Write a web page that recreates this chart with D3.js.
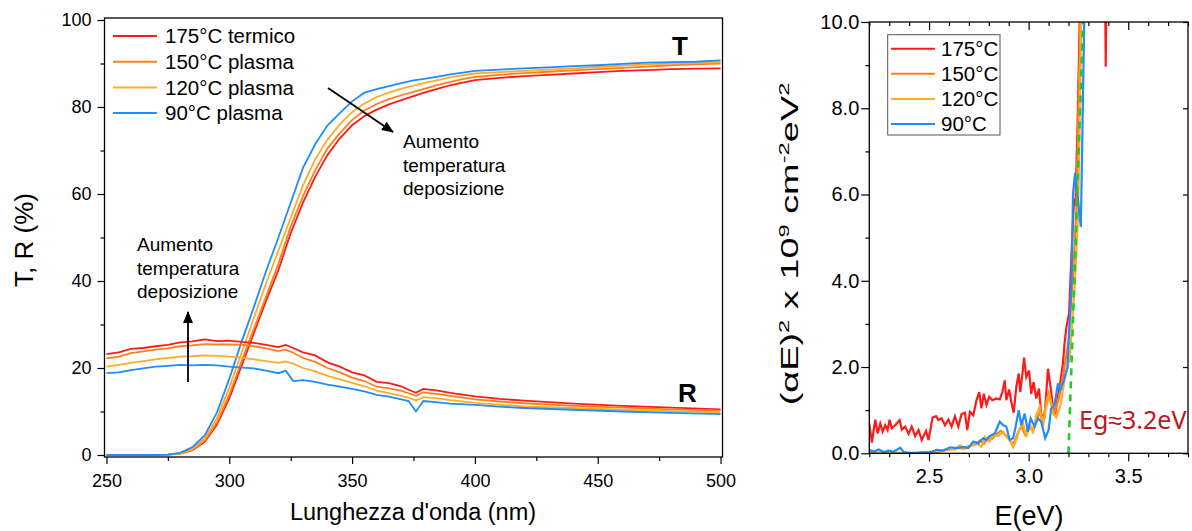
<!DOCTYPE html>
<html>
<head>
<meta charset="utf-8">
<script src="https://d3js.org/d3.v7.min.js"></script>
<style>
  body { margin: 0; background: #fff; }
  svg { display: block; font-family: "Liberation Sans", Arial, sans-serif; }
  .axis path { display: none; }
  .axis line { stroke: #000; stroke-width: 1.2; }
  .axis text { fill: #000; }
</style>
</head>
<body>
<script>
// ---- left panel: transmittance / reflectance vs wavelength ----
var seriesNames = ["175°C termico", "150°C plasma", "120°C plasma", "90°C plasma"];
var seriesShort = ["175°C", "150°C", "120°C", "90°C"];
var colors = ["#ff1a1a", "#ff7f1e", "#ffad22", "#1f8cff"];

var wlT = [250,260,270,275,280,285,290,295,300,305,310,315,320,325,330,335,340,345,350,355,
           360,365,370,375,380,385,390,395,400,410,420,430,440,450,460,470,480,490,500];
var T175 = [0,0,0,0.1,0.3,1.1,3.0,7.0,13,20.5, 28,35.5,42.5,51,58,64,69,72.8,75.8,77.9,
            79.4,80.6,81.6,82.5,83.4,84.2,85,85.6,86.2,86.7, 87.1,87.4,87.7,88.0,88.3,88.5,88.7,88.8,88.9];
var T150 = [0,0,0,0.1,0.3,1.2,3.3,7.5,13.8,21.5, 29,36.5,44,52.5,59.5,65.5,70.5,74,77,79.2,
            80.7,81.8,82.7,83.5,84.3,85.1,85.8,86.4,86.9,87.4, 87.8,88.1,88.4,88.7,89.0,89.3,89.6,89.8,90.0];
var T120 = [0,0,0,0.1,0.4,1.4,3.8,8.5,15.5,23.5, 31.5,39.5,47,54.5,62,68,72.5,76,78.8,80.8,
            82.3,83.3,84.2,84.9,85.6,86.2,86.8,87.3,87.7,88.0, 88.3,88.6,88.9,89.2,89.5,89.8,90.0,90.1,90.3];
var T90  = [0,0,0,0.1,0.5,1.8,4.5,9.8,17.5,26, 34,42.3,50,58,66,71.5,75.8,78.6,81.3,83.3,
            84.1,84.8,85.5,86.1,86.5,87.0,87.5,87.9,88.3,88.6, 88.9,89.1,89.4,89.6,89.9,90.2,90.3,90.4,90.7];

var wlR = [250,255,260,265,270,275,280,285,290,295,300,305,310,315,320,323,326,330,335,340,
           345,350,355,360,365,370,373,376,379,385,390,400,410,420,440,460,480,500];
var R175 = [23.2,23.6,24.4,24.6,25.0,25.3,25.9,26.1,26.6,26.2, 26.3,26.0,25.8,25.3,24.8,25.3,24.6,23.6,22.9,21.3,
            20.3,19.0,18.3,16.8,16.5,15.8,15.0,14.3,15.2,14.8, 14.3,13.5,12.9,12.5,11.8,11.3,10.9,10.5];
var R150 = [22.2,22.6,23.4,23.8,24.2,24.5,25.0,25.2,25.5,25.4, 25.4,25.3,25.0,24.5,23.9,24.2,23.5,22.3,21.4,20.0,
            19.0,17.8,17.0,15.7,15.3,14.8,14.2,13.6,14.4,14.0, 13.6,12.8,12.3,11.9,11.3,10.9,10.5,10.2];
var R120 = [20.3,20.7,21.2,21.6,22.0,22.3,22.6,22.7,22.9,22.8, 22.6,22.4,22.0,21.6,21.2,21.5,21.0,20.0,19.2,18.2,
            17.4,16.6,15.8,14.8,14.2,13.6,13.2,12.5,13.3,13.0, 12.6,12.0,11.6,11.2,10.8,10.4,10.1,9.8];
var R90  = [18.8,19.0,19.5,19.9,20.3,20.5,20.7,20.6,20.7,20.6, 20.3,20.1,19.9,19.4,18.8,19.4,17.0,17.2,16.8,16.2,
            15.7,15.2,14.6,13.8,13.4,12.8,12.4,10.0,12.4,12.1, 11.8,11.5,11.1,10.8,10.4,10.0,9.7,9.4];

var xTicksL = [250,300,350,400,450,500];
var xMinorL = [275,325,375,425,475];
var yTicksL = [0,20,40,60,80,100];
var yMinorL = [10,30,50,70,90];

// ---- right panel: (alpha E)^2 vs E ----
var E175 = [2.200,2.213,2.230,2.242,2.255,2.267,2.280,2.292,2.302,2.313,2.330,2.352,2.363,2.380,2.397,2.413,2.430,2.447,2.463,2.485,
            2.497,2.518,2.535,2.547,2.563,2.580,2.597,2.613,2.630,2.647,2.663,2.680,2.692,2.705,2.722,2.738,2.752,2.763,2.775,2.788,
            2.802,2.818,2.838,2.855,2.868,2.880,2.888,2.902,2.913,2.925,2.938,2.950,2.958,2.968,2.977,2.988,3.002,3.013,3.025,3.038,
            3.052,3.063,3.080,3.097,3.110,3.122,3.135,3.147,3.158,3.172,3.180,3.190,3.203,3.215,3.228,3.235,3.245,3.257,3.280,3.320,
            3.360,3.380,3.387,3.394,3.420,3.800];
var A175 = [0.69,0.25,0.78,0.46,0.69,0.50,0.65,0.54,0.78,0.58,0.65,0.77,0.55,0.62,0.45,0.62,0.40,0.54,0.31,0.52,
            0.31,0.83,0.86,0.77,0.81,0.65,0.78,0.62,0.86,0.62,0.91,0.94,0.54,0.96,0.88,1.23,1.42,1.04,1.38,1.12,
            1.31,1.23,1.27,1.25,1.42,1.69,1.23,1.48,1.19,0.94,1.54,1.85,1.42,1.81,2.22,1.77,1.92,1.38,1.65,1.27,
            1.50,0.90,0.85,1.96,1.54,1.08,0.96,1.31,1.62,2.08,2.54,2.94,3.25,4.6,5.9,5.75,7.5,10.2,14,18,
            16,13,8.96,13,18,20];
var E150 = [2.20,2.25,2.30,2.35,2.40,2.45,2.50,2.55,2.58,2.61,2.64,2.67,2.70,2.73,2.755,2.775,2.795,2.815,2.84,2.86,
            2.88,2.90,2.915,2.93,2.95,2.965,2.98,3.00,3.02,3.04,3.055,3.07,3.09,3.10,3.115,3.13,3.15,3.175,3.20,3.225,
            3.24,3.26,3.29];
var A150 = [0.03,0.01,0.02,0.01,0.00,0.01,0.02,0.04,0.07,0.09,0.13,0.11,0.17,0.20,0.30,0.22,0.36,0.33,0.45,0.52,
            0.44,0.36,0.22,0.28,0.52,0.62,0.45,0.60,0.55,0.78,0.95,0.70,1.25,1.40,1.10,0.95,1.25,1.85,2.6,4.3,
            5.7,10.2,13];
var E120 = [2.200,2.238,2.288,2.338,2.388,2.438,2.488,2.538,2.572,2.605,2.630,2.655,2.680,2.705,2.738,2.763,2.780,2.802,2.822,2.847,
            2.872,2.888,2.905,2.922,2.938,2.955,2.972,2.988,3.005,3.022,3.038,3.055,3.072,3.088,3.105,3.122,3.138,3.158,3.180,3.207,
            3.232,3.248,3.265,3.290];
var A120 = [0.02,0.01,0.02,0.00,0.01,0.00,0.03,0.05,0.08,0.12,0.08,0.19,0.10,0.15,0.23,0.15,0.38,0.27,0.42,0.40,
            0.50,0.38,0.31,0.14,0.31,0.58,0.69,0.38,0.69,0.46,0.88,1.08,0.62,1.08,1.38,0.92,0.83,1.08,1.69,2.24,
            3.94,5.49,10.2,13];
var E90 = [2.200,2.222,2.247,2.272,2.297,2.322,2.355,2.372,2.405,2.438,2.472,2.505,2.538,2.572,2.605,2.638,2.672,2.697,2.722,2.747,
           2.772,2.788,2.805,2.830,2.855,2.872,2.888,2.905,2.922,2.935,2.950,2.963,2.980,2.997,3.010,3.030,3.047,3.063,3.083,3.100,
           3.113,3.130,3.147,3.158,3.172,3.195,3.215,3.223,3.233,3.240,3.262,3.280,3.300];
var A90 = [0.08,0.04,0.09,0.03,0.06,0.04,0.13,0.03,0.01,0.01,0.02,0.02,0.08,0.06,0.14,0.12,0.15,0.12,0.27,0.23,
           0.35,0.31,0.40,0.46,0.73,0.65,0.62,0.31,0.35,0.62,1.00,0.65,0.92,0.50,0.81,0.62,0.81,0.73,0.35,0.54,
           1.04,1.12,1.62,1.46,1.62,2.0,3.94,6.03,6.5,6.2,5.25,10.3,13];

var xTicksR = [2.5,3.0,3.5];
var xMinorR = [2.2,2.3,2.4,2.6,2.7,2.8,2.9,3.1,3.2,3.3,3.4,3.6,3.7,3.8];
var yTicksR = [0,2,4,6,8,10];
var yMinorR = [1,3,5,7,9];
var egLine = [[3.2, 0], [3.273, 10]];

var svg = d3.select("body").append("svg")
  .attr("width", 1192).attr("height", 531);

function pairs(xs, ys) { return xs.map(function(x, i) { return [x, ys[i]]; }); }

// ================= LEFT =================
var xL = d3.scaleLinear().domain([249.2, 500.8]).range([104.5, 722.5]);
var yL = d3.scaleLinear().domain([-0.46, 100.46]).range([457, 18]);

svg.append("g").attr("class", "axis")
  .attr("transform", "translate(0,457)")
  .style("font-size", "18px")
  .call(d3.axisBottom(xL).tickValues(xTicksL).tickSize(7).tickPadding(10).tickFormat(d3.format("d")));
svg.append("g").attr("class", "axis")
  .attr("transform", "translate(0,457)")
  .call(d3.axisBottom(xL).tickValues(xMinorL).tickSize(4).tickFormat(""));
svg.append("g").attr("class", "axis")
  .attr("transform", "translate(104.5,0)")
  .style("font-size", "18px")
  .call(d3.axisLeft(yL).tickValues(yTicksL).tickSize(7).tickPadding(6).tickFormat(d3.format("d")));
svg.append("g").attr("class", "axis")
  .attr("transform", "translate(104.5,0)")
  .call(d3.axisLeft(yL).tickValues(yMinorL).tickSize(4).tickFormat(""));

var lineL = d3.line().x(function(d) { return xL(d[0]); }).y(function(d) { return yL(d[1]); });
var Tsets = [T175, T150, T120, T90];
var Rsets = [R175, R150, R120, R90];
Tsets.forEach(function(s, i) {
  svg.append("path").datum(pairs(wlT, s)).attr("d", lineL)
    .attr("fill", "none").attr("stroke", colors[i]).attr("stroke-width", 1.8);
});
Rsets.forEach(function(s, i) {
  svg.append("path").datum(pairs(wlR, s)).attr("d", lineL)
    .attr("fill", "none").attr("stroke", colors[i]).attr("stroke-width", 1.8);
});

svg.append("rect").attr("x", 104.5).attr("y", 18).attr("width", 618).attr("height", 439)
  .attr("fill", "none").attr("stroke", "#000").attr("stroke-width", 1.3);

// legend
var legL = svg.selectAll(".legL").data(seriesNames).enter().append("g")
  .attr("transform", function(d, i) { return "translate(0," + (36 + i * 25.7) + ")"; });
legL.append("line").attr("x1", 113).attr("x2", 157)
  .attr("stroke", function(d, i) { return colors[i]; }).attr("stroke-width", 2);
legL.append("text").attr("x", 165).attr("dy", "0.35em").style("font-size", "20.5px").text(function(d) { return d; });

svg.append("text").attr("x", 672).attr("y", 55).style("font-size", "26px").style("font-weight", "bold").text("T");
svg.append("text").attr("x", 678).attr("y", 402).style("font-size", "26px").style("font-weight", "bold").text("R");

// arrows
var defs = svg.append("defs");
defs.append("marker").attr("id", "ah").attr("viewBox", "0 0 12 10")
  .attr("refX", 11).attr("refY", 5).attr("markerWidth", 12).attr("markerHeight", 10)
  .attr("markerUnits", "userSpaceOnUse").attr("orient", "auto")
  .append("path").attr("d", "M0,0L12,5L0,10Z").attr("fill", "#000");
svg.append("line").attr("x1", 328).attr("y1", 88).attr("x2", 393).attr("y2", 132)
  .attr("stroke", "#000").attr("stroke-width", 1.8).attr("marker-end", "url(#ah)");
svg.append("line").attr("x1", 188).attr("y1", 382).attr("x2", 188).attr("y2", 312)
  .attr("stroke", "#000").attr("stroke-width", 1.8).attr("marker-end", "url(#ah)");

var noteLines = ["Aumento", "temperatura", "deposizione"];
var n1 = svg.append("text").style("font-size", "19px");
noteLines.forEach(function(t, i) { n1.append("tspan").attr("x", 403).attr("y", 148 + i * 23.5).text(t); });
var n2 = svg.append("text").style("font-size", "19px");
noteLines.forEach(function(t, i) { n2.append("tspan").attr("x", 137).attr("y", 251 + i * 23.5).text(t); });

svg.append("text").attr("x", 413).attr("y", 520).attr("text-anchor", "middle")
  .style("font-size", "23.5px").text("Lunghezza d'onda (nm)");
svg.append("text").attr("transform", "translate(33,240) rotate(-90)").attr("text-anchor", "middle")
  .style("font-size", "26px").text("T, R (%)");

// ================= RIGHT =================
var xR = d3.scaleLinear().domain([2.2, 3.8]).range([869.3, 1188]);
var yR = d3.scaleLinear().domain([0, 10]).range([453.3, 22]);

svg.append("g").attr("class", "axis").attr("transform", "translate(0,453.3)")
  .style("font-size", "20px")
  .call(d3.axisBottom(xR).tickValues(xTicksR).tickSize(8).tickPadding(8).tickFormat(d3.format(".1f")));
svg.append("g").attr("class", "axis").attr("transform", "translate(0,453.3)")
  .call(d3.axisBottom(xR).tickValues(xMinorR).tickSize(4).tickFormat(""));
svg.append("g").attr("class", "axis").attr("transform", "translate(0,22)")
  .call(d3.axisTop(xR).tickValues(xTicksR).tickSize(-8).tickFormat(""));
svg.append("g").attr("class", "axis").attr("transform", "translate(0,22)")
  .call(d3.axisTop(xR).tickValues(xMinorR).tickSize(-4).tickFormat(""));
svg.append("g").attr("class", "axis").attr("transform", "translate(869.3,0)")
  .style("font-size", "20px")
  .call(d3.axisLeft(yR).tickValues(yTicksR).tickSize(8).tickPadding(2).tickFormat(d3.format(".1f")));
svg.append("g").attr("class", "axis").attr("transform", "translate(869.3,0)")
  .call(d3.axisLeft(yR).tickValues(yMinorR).tickSize(4).tickFormat(""));
svg.append("g").attr("class", "axis").attr("transform", "translate(1188,0)")
  .call(d3.axisRight(yR).tickValues(yTicksR).tickSize(-5).tickFormat(""));

defs.append("clipPath").attr("id", "clipR").append("rect")
  .attr("x", 869.3).attr("y", 22).attr("width", 1188 - 869.3).attr("height", 453.3 - 22);

var lineR = d3.line().x(function(d) { return xR(d[0]); }).y(function(d) { return yR(d[1]); });
var gR = svg.append("g").attr("clip-path", "url(#clipR)");
[[E175, A175], [E150, A150], [E120, A120], [E90, A90]].forEach(function(s, i) {
  gR.append("path").datum(pairs(s[0], s[1])).attr("d", lineR)
    .attr("fill", "none").attr("stroke", colors[i]).attr("stroke-width", 2.2);
});
gR.append("path").datum(egLine).attr("d", lineR)
  .attr("fill", "none").attr("stroke", "#22cc22").attr("stroke-width", 2.6).attr("stroke-dasharray", "7,6");

svg.append("rect").attr("x", 869.3).attr("y", 22).attr("width", 1188 - 869.3).attr("height", 453.3 - 22)
  .attr("fill", "none").attr("stroke", "#000").attr("stroke-width", 1.3);

// legend box
svg.append("rect").attr("x", 887.7).attr("y", 34.7).attr("width", 112.3).attr("height", 100.3)
  .attr("fill", "#fff").attr("stroke", "#555").attr("stroke-width", 1);
var legR = svg.selectAll(".legR").data(seriesShort).enter().append("g")
  .attr("transform", function(d, i) { return "translate(0," + (48.7 + i * 25.1) + ")"; });
legR.append("line").attr("x1", 891).attr("x2", 935)
  .attr("stroke", function(d, i) { return colors[i]; }).attr("stroke-width", 2);
legR.append("text").attr("x", 941).attr("dy", "0.35em").style("font-size", "20.5px").text(function(d) { return d; });

svg.append("text").attr("x", 1079).attr("y", 429)
  .style("font-family", "'Noto Sans', sans-serif").style("font-size", "25px").attr("fill", "#bf1620")
  .text("Eg≈3.2eV");

svg.append("text").attr("x", 1029).attr("y", 525).attr("text-anchor", "middle")
  .style("font-size", "27px").text("E(eV)");

var yl = svg.append("text").attr("transform", "translate(798,244) rotate(-90) scale(1.58,1)")
  .attr("text-anchor", "middle").style("font-size", "24px");
yl.append("tspan").text("(\u03B1E)");
yl.append("tspan").attr("dy", -9).style("font-size", "15px").text("2");
yl.append("tspan").attr("dy", 9).text(" x 10");
yl.append("tspan").attr("dy", -9).style("font-size", "15px").text("9");
yl.append("tspan").attr("dy", 9).text(" cm");
yl.append("tspan").attr("dy", -9).style("font-size", "15px").text("-2");
yl.append("tspan").attr("dy", 9).text("eV");
yl.append("tspan").attr("dy", -9).style("font-size", "15px").text("2");
</script>
</body>
</html>
